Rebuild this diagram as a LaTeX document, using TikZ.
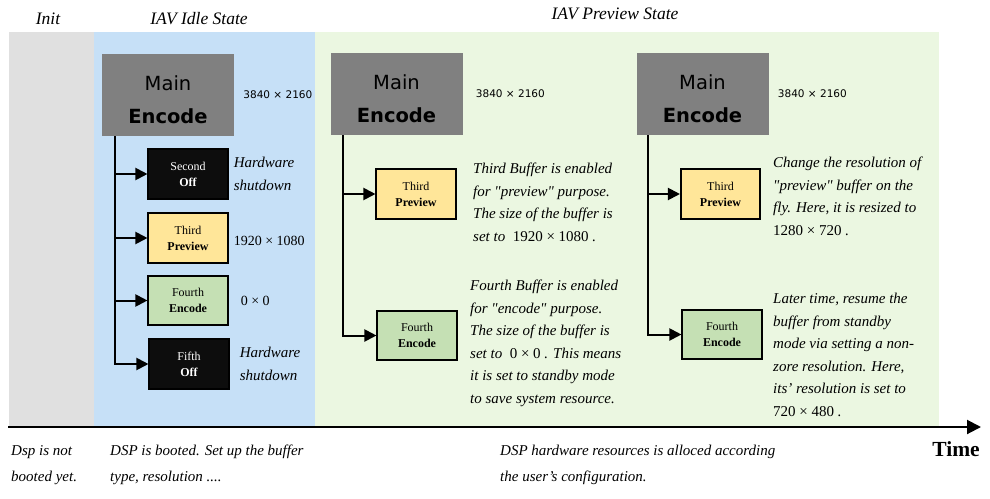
\documentclass[tikz,border=0pt]{standalone}
\usepackage{fontspec}
\setmainfont{Liberation Serif}[Ligatures=TeXOff]
\newfontfamily\verd{DejaVu Sans}
\usepackage{xcolor}
\usetikzlibrary{positioning, arrows.meta}

\definecolor{initgray}{HTML}{E0E0E0}
\definecolor{idleblue}{HTML}{C6E0F7}
\definecolor{prevgreen}{HTML}{EBF7E1}
\definecolor{encgray}{HTML}{808080}
\definecolor{prevyellow}{HTML}{FFE699}
\definecolor{encgreen}{HTML}{C5E0B4}
\definecolor{offblack}{HTML}{0D0D0D}

\begin{document}
\begin{tikzpicture}[x=1pt, y=-1pt,
  every node/.style={inner sep=0pt},
  encbox/.style={fill=encgray, minimum width=132pt, minimum height=82pt,
                 align=center, font=\verd\fontsize{19.5}{33}\selectfont},
  buf/.style={draw=black, line width=1.6pt, minimum width=79.5pt,
              minimum height=49.5pt, align=center,
              font=\fontsize{12}{16}\selectfont},
  offbuf/.style={buf, fill=offblack, text=white},
  prevbuf/.style={buf, fill=prevyellow},
  encbuf/.style={buf, fill=encgreen},
  res/.style={font=\verd\fontsize{10.5}{12}\selectfont},
  num/.style={font=\fontsize{14}{16}\selectfont},
  note/.style={align=left, font=\itshape\fontsize{15}{22.5}\selectfont},
  foot/.style={align=left, font=\itshape\fontsize{15}{26}\selectfont},
  head/.style={font=\itshape\fontsize{17.5}{20}\selectfont},
  feed/.style={-{Triangle[length=12pt, width=12pt]}, line width=2pt}]
\useasboundingbox (0,0) rectangle (990,498);

% stage backgrounds
\fill[initgray] (9,32) rectangle (94,426);
\fill[idleblue] (94,32) rectangle (315,426);
\fill[prevgreen] (315,32) rectangle (939,426);

\node[head] (hinit) at (48,19) {Init};
\node[head] (hidle) at (199,19) {IAV Idle State};
\node[head] (hprev) at (615,14) {IAV Preview State};

% idle state
\node[encbox] (enc1) at (168,95) {\rule{0pt}{24pt}Main\\\textbf{Encode}};
\node[res, right=9pt of enc1] (res1) {3840 × 2160};
\node[offbuf] (sec1) at (188,174) {Second\\\textbf{Off}};
\node[prevbuf] (thd1) at (188,238) {Third\\\textbf{Preview}};
\node[encbuf] (fth1) at (188,300.5) {Fourth\\\textbf{Encode}};
\node[offbuf] (fif1) at (189,364) {Fifth\\\textbf{Off}};
\node[note, right=5pt of sec1] (hw1) {Hardware\\shutdown};
\node[num, right=5pt of thd1, yshift=-3pt] (res12) {1920 × 1080};
\node[num, right=12pt of fth1] (res13) {0 × 0};
\node[note, right=10pt of fif1] (hw2) {Hardware\\shutdown};
\foreach \b in {sec1,thd1,fth1,fif1}
  \draw[feed] ([xshift=13pt]enc1.south west) |- (\b.west);

% preview state, first step
\node[encbox] (enc2) at (396.5,94) {\rule{0pt}{24pt}Main\\\textbf{Encode}};
\node[res, right=13pt of enc2] (res2) {3840 × 2160};
\node[prevbuf] (thd2) at (416,194) {Third\\\textbf{Preview}};
\node[encbuf] (fth2) at (417,335.5) {Fourth\\\textbf{Encode}};
\node[note, anchor=north west] (txt2a) at (473,163)
  {Third Buffer is enabled\\for "preview" purpose.\\The size of the buffer is\\
   set to\ \ {\upshape 1920 × 1080} .};
\node[note, anchor=north west] (txt2b) at (470,280)
  {Fourth Buffer is enabled\\for "encode" purpose.\\The size of the buffer is\\
   set to\ \ {\upshape 0 × 0} . This means\\it is set to standby mode\\
   to save system resource.};
\foreach \b in {thd2,fth2}
  \draw[feed] ([xshift=13pt]enc2.south west) |- (\b.west);

% preview state, second step
\node[encbox] (enc3) at (702.5,94) {\rule{0pt}{24pt}Main\\\textbf{Encode}};
\node[res, right=9pt of enc3] (res3) {3840 × 2160};
\node[prevbuf] (thd3) at (720.5,194) {Third\\\textbf{Preview}};
\node[encbuf] (fth3) at (722,334.5) {Fourth\\\textbf{Encode}};
\node[note, anchor=north west] (txt3a) at (773,157)
  {Change the resolution of\\"preview" buffer on the\\fly. Here, it is resized to\\
   {\upshape 1280 × 720} .};
\node[note, anchor=north west] (txt3b) at (773,293)
  {Later time, resume the\\buffer from standby\\mode via setting a non-\\
   zore resolution. Here,\\its’ resolution is set to\\{\upshape 720 × 480} .};
\foreach \b in {thd3,fth3}
  \draw[feed] ([xshift=12pt]enc3.south west) |- (\b.west);

% time axis
\coordinate (t0) at (8,427);
\coordinate (t1) at (981,427);
\draw[-{Triangle[length=14pt, width=14pt]}, line width=2pt] (t0) -- (t1);
\node[font=\bfseries\fontsize{21.5}{24}\selectfont] (time) at (956,449) {Time};

\node[foot, anchor=north west] (f1) at (11,445) {Dsp is not\\booted yet.};
\node[foot, anchor=north west] (f2) at (110,445)
  {DSP is booted. Set up the buffer\\type, resolution ....};
\node[foot, anchor=north west] (f3) at (500,445)
  {DSP hardware resources is alloced according\\the user’s configuration.};
\end{tikzpicture}
\end{document}
